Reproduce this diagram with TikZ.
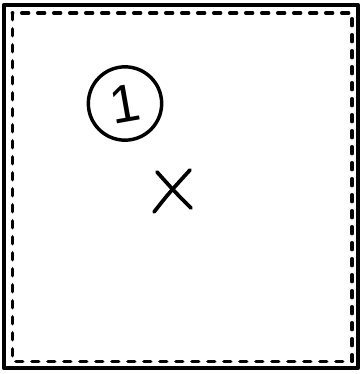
\documentclass[tikz,border=0pt]{standalone}
\usepackage{fontspec}
\setsansfont{Liberation Sans}
\begin{document}
\begin{tikzpicture}[x=0.75pt, y=-0.75pt, line width=2.8pt, line cap=round, line join=round,
		frame/.style={draw=black, line width=3.2pt},
		dashframe/.style={draw=black, line width=2.8pt, dash pattern=on 5pt off 7pt},
		number/.style={circle, draw, line width=2.6pt, minimum size=55pt, inner sep=0pt, font=\sffamily\fontsize{40}{40}\selectfont}]
			\useasboundingbox (0,0) rectangle (361,374);
			\draw[frame] (4,5) rectangle (358,368);
			\draw[dashframe] (12.5,13) rectangle (352,361.5);
			\node[number] (one) at (125,103.5) {\rotatebox{10}{1}};
			\coordinate (mark) at (173,191);
			\draw ([shift={(-19,21)}]mark) .. controls ([shift={(-4,2)}]mark) .. ([shift={(17,-21)}]mark);
			\draw ([shift={(-16,-19)}]mark) .. controls ([shift={(2,1)}]mark) .. ([shift={(18,17)}]mark);
	\end{tikzpicture}
\end{document}
